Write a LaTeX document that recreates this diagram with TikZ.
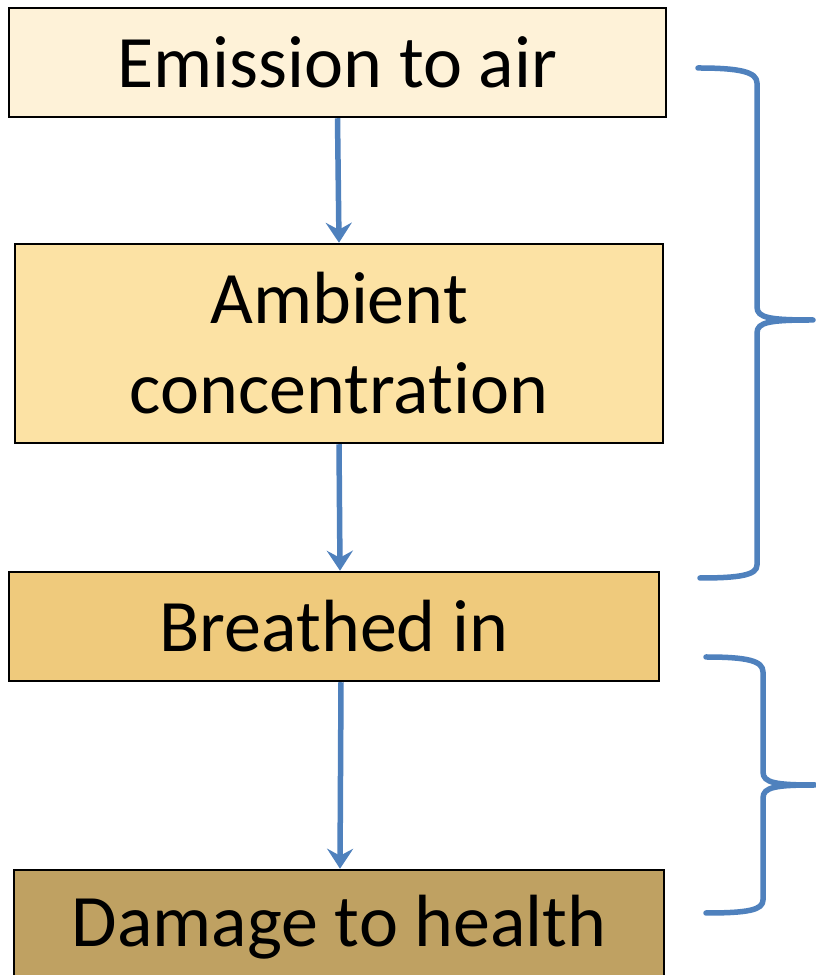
\documentclass[tikz,border=0pt]{standalone}
\usepackage{fontspec}
\setmainfont{Carlito}[Ligatures=NoCommon]
\usetikzlibrary{arrows.meta}
\definecolor{arrblue}{HTML}{4F81BD}
\definecolor{fillA}{HTML}{FEF2D8}
\definecolor{fillB}{HTML}{FCE2A4}
\definecolor{fillC}{HTML}{EFCA7C}
\definecolor{fillD}{HTML}{BFA162}
\tikzset{
  box/.style={draw=black, line width=2.5pt, inner sep=0pt, align=center,
    font=\fontsize{74}{90}\selectfont},
  arr/.style={draw=arrblue, line width=5.5pt,
    -{Stealth[length=20pt,width=26pt,inset=7pt]}},
  brace/.style={draw=arrblue, line width=5.5pt, line cap=round, line join=round}
}
\begin{document}
\begin{tikzpicture}[x=1pt,y=1pt]
\clip (0,0) rectangle (816,975);
\fill[white] (0,0) rectangle (816,975);
\node[box, fill=fillA, minimum width=657pt, minimum height=109pt] (b1) at (337.5,912.5) {Emission to air};
\node[box, fill=fillB, minimum width=648pt, minimum height=199pt] (b2) at (339,631.5) {Ambient\\concentration};
\node[box, fill=fillC, minimum width=650pt, minimum height=109pt] (b3) at (334,348.5) {Breathed in};
\node[box, fill=fillD, minimum width=650pt, minimum height=115pt] (b4) at (339,47.5) {Damage to health};
\draw[arr] (b1.south) -- (b2.north);
\draw[arr] (b2.south) -- ([xshift=6pt]b3.north);
\draw[arr] ([xshift=7pt]b3.south) -- ([xshift=1pt]b4.north);
\coordinate (t1) at (813,655);
\coordinate (t2) at (815,190);
\draw[brace] (698,907) .. controls (740,907) and (757,903) .. (757,892)
  -- (757,668) .. controls (757,657) and (770,655) .. (t1)
  .. controls (770,655) and (757,653) .. (757,642)
  -- (757,410) .. controls (757,400) and (740,397) .. (700,397);
\draw[brace] (706,318) .. controls (748,318) and (763,314) .. (763,303)
  -- (763,203) .. controls (763,192) and (776,190) .. (t2)
  .. controls (776,190) and (763,188) .. (763,177)
  -- (763,75) .. controls (763,65) and (748,62) .. (706,62);
\end{tikzpicture}
\end{document}
